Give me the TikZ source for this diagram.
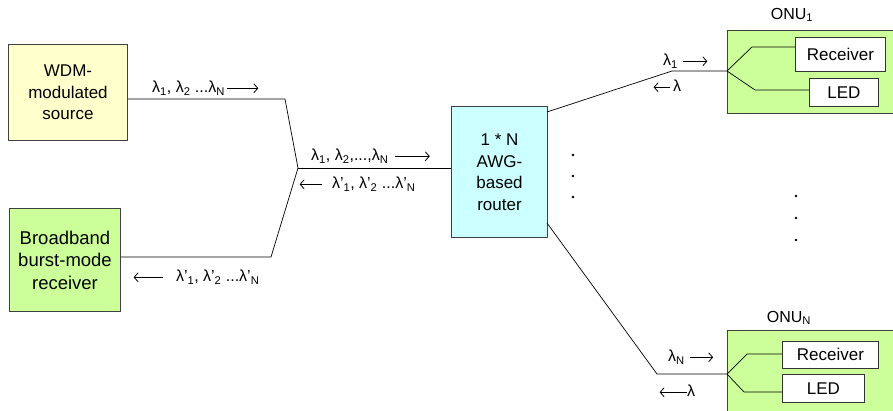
\documentclass[tikz,border=0pt]{standalone}
\usepackage{fontspec}
\setmainfont{Liberation Sans}
\usetikzlibrary{positioning,arrows.meta}

\definecolor{srcyellow}{HTML}{FFFFCC}
\definecolor{rxgreen}{HTML}{CCFF99}
\definecolor{awgcyan}{HTML}{CCFFFF}

\tikzset{
  blockbox/.style={draw=black!75, line width=1pt, align=center, inner sep=0pt,
    anchor=north west, font=\fontsize{17}{21.5}\selectfont},
  partbox/.style={draw=black!80, line width=0.8pt, fill=white, inner sep=0pt,
    anchor=north west, font=\fontsize{17}{20}\selectfont},
  wavelbl/.style={inner sep=0pt, anchor=west, font=\fontsize{16}{18}\selectfont},
  fiber/.style={draw=black, line width=0.7pt},
  chev/.tip={Straight Barb[length=4pt,width=9pt]},
}

\newcommand{\lam}[1]{λ\textsubscript{#1}}
\newcommand{\lamp}[1]{λ’\textsubscript{#1}}
\newcommand{\rarr}[1]{\tikz[baseline=-4.2pt]\draw[-chev, line width=0.8pt] (0pt,0pt) -- (#1,0pt);}
\newcommand{\larr}[1]{\tikz[baseline=-4.2pt]\draw[chev-, line width=0.8pt] (0pt,0pt) -- (#1,0pt);}

\begin{document}
\begin{tikzpicture}[x=1pt,y=-1pt]
   \useasboundingbox (0,0) rectangle (893,411);

   %% Kopfstelle
   \node[blockbox, fill=srcyellow, minimum width=119pt, minimum height=96pt] (wdm) at (8,44)
      {WDM-\\modulated\\source};
   \node[blockbox, fill=rxgreen, minimum width=111pt, minimum height=103pt,
      font=\fontsize{18.5}{22.5}\selectfont] (bmrx) at (9,208)
      {Broadband\\burst-mode\\receiver};
   \node[blockbox, fill=awgcyan, minimum width=96pt, minimum height=131pt] (awg) at (451,106)
      {1 * N\\AWG-\\based\\router};

   %% ONUs
   \node[blockbox, fill=rxgreen, minimum width=166pt, minimum height=83pt] (onu1) at (727,30) {};
   \node[partbox, minimum width=90pt, minimum height=34pt] (rx1) at (795,37) {Receiver};
   \node[partbox, minimum width=69pt, minimum height=28pt] (led1) at (809,78) {LED};
   \node[inner sep=0pt, font=\fontsize{16}{18}\selectfont] (onu1lbl) at (792,15) {ONU\textsubscript{1}};

   \node[blockbox, fill=rxgreen, minimum width=166pt, minimum height=90pt] (onun) at (727,330) {};
   \node[partbox, minimum width=96pt, minimum height=27pt] (rxn) at (782,341) {Receiver};
   \node[partbox, minimum width=82pt, minimum height=28pt] (ledn) at (782,374) {LED};
   \node[inner sep=0pt, font=\fontsize{16}{18}\selectfont] (onunlbl) at (789,318) {ONU\textsubscript{N}};

   %% Knickpunkte
   \coordinate (up) at (285,99);
   \coordinate (down) at (271,257);
   \coordinate (split) at (298,168);
   \coordinate (awgtop) at (547,112);
   \coordinate (awgbot) at (547,223);
   \coordinate (bend1) at (672,71);
   \coordinate (bendn) at (657,374);
   \coordinate (fork1a) at (752,47);
   \coordinate (fork1b) at (755,90);
   \coordinate (forkna) at (747,354);
   \coordinate (forknb) at (744,392);

   %% Fasern
   \draw[fiber] (wdm.east |- up) -- (up) -- (split);
   \draw[fiber] (bmrx.east |- down) -- (down) -- (split);
   \draw[fiber] (split) -- (awg.west |- split);
   \draw[fiber] (awgtop) -- (bend1) -- (onu1.west |- bend1);
   \draw[fiber] (awgbot) -- (bendn) -- (onun.west |- bendn);
   \draw[fiber] (onu1.west |- bend1) -- (fork1a) -- (rx1.west |- fork1a);
   \draw[fiber] (onu1.west |- bend1) -- (fork1b) -- (led1.west |- fork1b);
   \draw[fiber] (onun.west |- bendn) -- (forkna) -- (rxn.west |- forkna);
   \draw[fiber] (onun.west |- bendn) -- (forknb) -- (ledn.west |- forknb);

   %% Wellenlaengen
   \node[wavelbl] (dsrc) at (152,88) {\lam{1}, \lam{2} ...\lam{N}\hspace{2pt}\rarr{31pt}};
   \node[wavelbl] (dtrunk) at (311,156) {\lam{1}, \lam{2},...,\lam{N}\hspace{6pt}\rarr{35pt}};
   \node[wavelbl] (utrunk) at (299,184) {\larr{22pt}\hspace{10pt}\lamp{1}, \lamp{2} ...\lamp{N}};
   \node[wavelbl] (urx) at (133,277) {\larr{29pt}\hspace{13pt}\lamp{1}, \lamp{2} ...\lamp{N}};
   \node[wavelbl] (d1) at (663,61) {\lam{1}\hspace{5pt}\rarr{24pt}};
   \node[wavelbl] (u1) at (653,86) {\larr{16pt}\hspace{3pt}λ};
   \node[wavelbl] (dn) at (668,357) {\lam{N}\hspace{5pt}\rarr{23pt}};
   \node[wavelbl] (un) at (659,391) {\larr{27pt}λ};

   %% Punkte
   \fill (573,155) circle (1.4);
   \fill (573,176) circle (1.4);
   \fill (573,197) circle (1.4);
   \fill (796,196) circle (1.4);
   \fill (796,218) circle (1.4);
   \fill (796,240) circle (1.4);
\end{tikzpicture}
\end{document}
